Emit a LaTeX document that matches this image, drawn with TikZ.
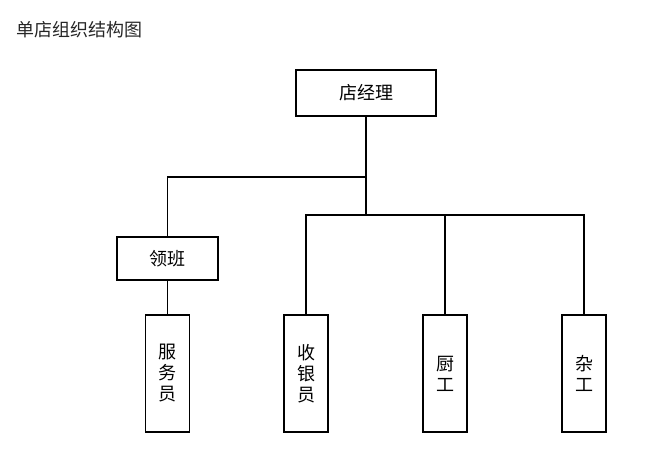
\documentclass[tikz,border=0pt]{standalone}
\usepackage{fontspec}
\newfontfamily\cjk{Noto Sans CJK SC}
\begin{document}
\begin{tikzpicture}[x=1pt,y=-1pt,line width=1.2pt,
  post/.style={draw,minimum width=140pt,minimum height=46pt,font=\cjk\fontsize{18}{20}\selectfont},
  staff/.style={draw,minimum width=44pt,minimum height=117pt,align=center,inner sep=0pt,font=\cjk\fontsize{18}{21}\selectfont}]
\useasboundingbox (0,0) rectangle (660,465);
\node[anchor=west,font=\cjk\fontsize{18}{20}\selectfont,text=black!85] (title) at (13,30) {单店组织结构图};
\node[post] (mgr) at (366,93) {店经理};
\node[post,minimum width=101pt,minimum height=43pt] (lead) at (167.5,258.5) {领班};
\node[staff] (waiter) at (167.5,373.5) {服\\务\\员};
\node[staff] (cashier) at (306,373.5) {收\\银\\员};
\node[staff] (cook) at (445,373.5) {厨\\工};
\node[staff] (misc) at (584,373.5) {杂\\工};
\coordinate (upper) at (366,177);
\coordinate (lower) at (366,215);
\draw (mgr.south) -- (lower);
\draw (upper) -| (lead.north);
\draw (lead.south) -- (waiter.north);
\draw (cashier.north) |- (lower) -| (misc.north);
\draw (cook.north) -- (cook.north |- lower);
\end{tikzpicture}
\end{document}
